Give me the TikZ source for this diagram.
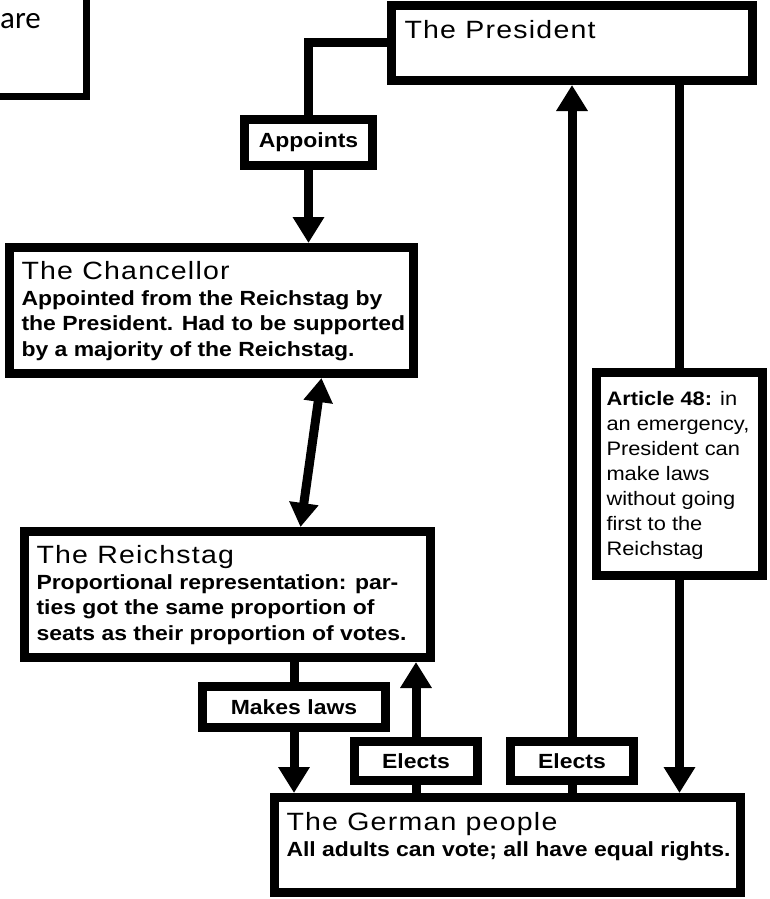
\documentclass[tikz,border=0pt]{standalone}
\usepackage{fontspec}
\setmainfont{Liberation Sans}[FakeStretch=1.12]
\newfontfamily\headfont{Liberation Sans}[FakeStretch=1.14,LetterSpace=5]
\newfontfamily\notefont{Carlito}
\usetikzlibrary{arrows.meta}

% fixed size text block, lines kept as given
\newcommand{\paneltext}[3]{\parbox[c][#2pt][t]{#1pt}{\begin{tabular}[t]{@{}l@{}}#3\end{tabular}}}
\newcommand{\paneltitle}[1]{{\headfont\mdseries\fontsize{25}{28}\selectfont #1}}

\begin{document}
\begin{tikzpicture}[x=1pt, y=-1pt
        , panel/.style={draw, line width=9pt, fill=white, anchor=north west,
            inner xsep=12pt, inner ysep=14pt,
            font=\bfseries\fontsize{20.5}{25.5}\selectfont}
        , tag/.style={draw, line width=9pt, fill=white, inner sep=0pt,
            font=\bfseries\fontsize{20.5}{24}\selectfont}
        , link/.style={line width=9pt}
        , arr/.style={link, -{Triangle[length=26pt,width=30pt]}}
        , dblarr/.style={link, {Triangle[length=24pt,width=28pt]}-{Triangle[length=24pt,width=28pt]}}
        ]

    \useasboundingbox (0,0) rectangle (769,899);
    \clip (0,0) rectangle (769,899);
    \fill[white] (0,0) rectangle (769,899);

    % cut-off note in the corner
    \draw[line width=7pt] (-20,-20) rectangle (86.5,96.5);
    \node[anchor=base west, inner sep=0pt, font=\notefont\fontsize{31}{36}\selectfont] (note) at (0,29) {are};

    % main boxes
    \node[panel, inner xsep=13pt, inner ysep=14.5pt] (president) at (387,1)
        {\paneltext{335}{46}{\paneltitle{The President}}};

    \node[panel] (chancellor) at (5,243)
        {\paneltext{380}{98}{\paneltitle{The Chancellor}\\
            \bfseries Appointed from the Reichstag by\\
            \bfseries the President. Had to be supported\\
            \bfseries by a majority of the Reichstag.}};

    \node[panel] (reichstag) at (20,527)
        {\paneltext{382}{98}{\paneltitle{The Reichstag}\\
            \bfseries Proportional representation: par-\\
            \bfseries ties got the same proportion of\\
            \bfseries seats as their proportion of votes.}};

    \node[panel, inner xsep=10pt, inner ysep=15pt, font=\mdseries\fontsize{19.5}{25}\selectfont] (article) at (592,368)
        {\paneltext{146}{173}{{\bfseries Article 48:} in\\
            an emergency,\\ President can\\ make laws\\
            without going\\ first to the\\ Reichstag}};

    \node[panel, inner ysep=15pt] (german) at (270,793)
        {\paneltext{442}{65}{\paneltitle{The German people}\\
            \bfseries All adults can vote; all have equal rights.}};

    % labels on the connectors
    \node[tag, minimum width=128pt, minimum height=46pt] (appoints) at (308.5,142.5) {Appoints};
    \node[tag, minimum width=183pt, minimum height=41pt] (makes) at (294,707) {Makes laws};
    \node[tag, minimum width=123pt, minimum height=39pt] (elects1) at (416,761) {Elects};
    \node[tag, minimum width=123pt, minimum height=39pt] (elects2) at (572,761) {Elects};

    % connectors
    \draw[link] (president.west) -| (appoints.north);
    \draw[arr] (appoints.south) -- (appoints.south |- chancellor.north);

    \draw[dblarr] ([xshift=110pt]chancellor.south) -- ([xshift=73pt]reichstag.north);

    \draw[link] (makes.north |- reichstag.south) -- (makes.north);
    \draw[arr] (makes.south) -- (makes.south |- german.north);

    \draw[link] (elects1.south |- german.north) -- (elects1.south);
    \draw[arr] (elects1.north) -- (elects1.north |- reichstag.south);

    \draw[link] (elects2.south |- german.north) -- (elects2.south);
    \draw[arr] (elects2.north) -- (elects2.north |- president.south);

    \draw[link] (article.north |- president.south) -- (article.north);
    \draw[arr] (article.south) -- (article.south |- german.north);

\end{tikzpicture}
\end{document}
